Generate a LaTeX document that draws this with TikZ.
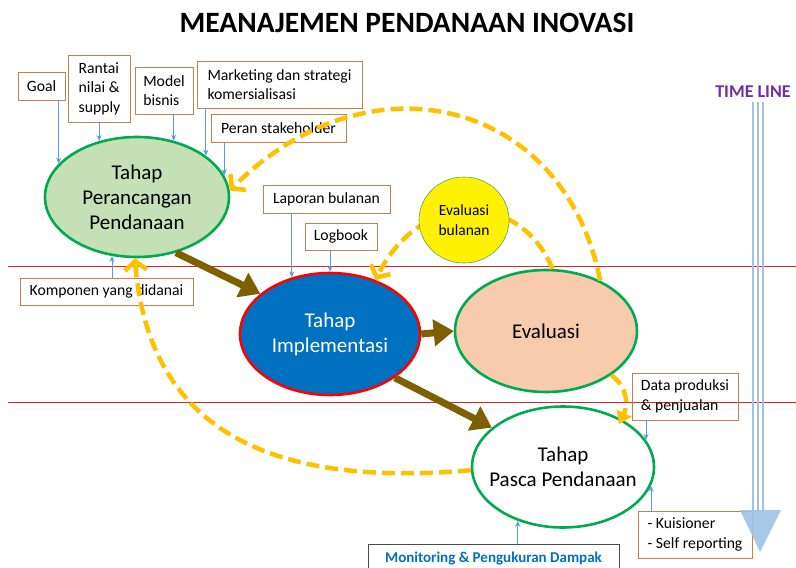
\documentclass[tikz,border=0pt]{standalone}
\usepackage{fontspec}
\setmainfont{Carlito}
\usetikzlibrary{shapes.geometric,arrows.meta}

\definecolor{stagegreen}{RGB}{0,170,80}
\definecolor{planfill}{RGB}{197,224,180}
\definecolor{implfill}{RGB}{0,112,192}
\definecolor{evalfill}{RGB}{248,203,173}
\definecolor{notebrown}{RGB}{192,128,80}
\definecolor{feedblue}{RGB}{91,155,213}
\definecolor{flowbrown}{RGB}{127,96,0}
\definecolor{loopyellow}{RGB}{255,192,0}
\definecolor{lanered}{RGB}{215,40,40}
\definecolor{timeblue}{RGB}{157,195,230}
\definecolor{timepurple}{RGB}{112,48,160}

\begin{document}
\begin{tikzpicture}[x=1pt, y=-1pt,
        stage node/.style={ellipse, draw=stagegreen, line width=2.6pt, inner sep=0pt, align=center, font=\fontsize{21}{25}\selectfont},
        note box/.style={rectangle, draw=notebrown, line width=0.8pt, align=left, inner sep=0pt, font=\fontsize{15.7}{19.5}\selectfont},
        feed/.style={-{Stealth[length=6pt,width=5pt]}, draw=feedblue, line width=0.8pt},
        flow/.style={-{Triangle[length=20pt,width=26pt]}, draw=flowbrown, line width=7pt},
        loop/.style={-{Straight Barb[length=9pt,width=22pt]}, draw=loopyellow, line width=4.5pt, dash pattern=on 13pt off 6pt}]

        \useasboundingbox (0,0) rectangle (796,568);

        % garis batas tahap
        \draw[lanered, line width=0.8pt] (8,266) -- (796,266);
        \draw[lanered, line width=0.8pt] (8,402) -- (796,402);

        \node[font=\fontsize{29.5}{32}\selectfont\bfseries] (title) at (407,23) {MEANAJEMEN PENDANAAN INOVASI};

        % tahap
        \node[stage node, fill=planfill, minimum width=184pt, minimum height=120pt] (plan) at (137,197) {Tahap\\Perancangan\\Pendanaan};
        \node[stage node, fill=implfill, draw=red, text=white, minimum width=180pt, minimum height=122pt] (impl) at (330,334) {Tahap\\Implementasi};
        \node[stage node, fill=evalfill, minimum width=182pt, minimum height=122pt] (eval) at (546,331) {Evaluasi};
        \node[stage node, fill=white, inner xsep=-12pt, minimum width=182pt, minimum height=121pt] (pasca) at (563,467) {Tahap\\Pasca Pendanaan};

        % loop evaluasi (di belakang lingkaran)
        \draw[loop] (eval.84) .. controls (520,190) and (420,190) .. (impl.50);
        \node[ellipse, draw=gray!70!green, fill=yellow, line width=0.6pt, inner sep=0pt, align=center, minimum width=90pt, minimum height=86pt, font=\fontsize{15.5}{20}\selectfont] (monthly) at (464,220) {Evaluasi\\bulanan};

        % masukan
        \node[note box, minimum width=47pt, minimum height=28pt] (goal) at (41.5,86) {Goal};
        \node[note box, minimum width=62pt, minimum height=67pt] (chain) at (99.5,88.5) {Rantai\\nilai \&\\supply};
        \node[note box, minimum width=58pt, minimum height=47pt] (model) at (164,90.5) {Model\\bisnis};
        \node[note box, minimum width=165pt, minimum height=47pt] (market) at (279.5,84.5) {Marketing dan strategi\\komersialisasi};
        \node[note box, minimum width=135pt, minimum height=28pt] (stake) at (278.5,128.5) {Peran stakeholder};
        \node[note box, minimum width=173pt, minimum height=27pt] (comp) at (106.5,291.5) {Komponen yang didanai};
        \node[note box, minimum width=127pt, minimum height=28pt] (report) at (326.5,199) {Laporan bulanan};
        \node[note box, minimum width=72pt, minimum height=27pt] (logbook) at (341,236.5) {Logbook};
        \node[note box, minimum width=106pt, minimum height=47pt] (sales) at (685,396.5) {Data produksi\\\& penjualan};
        \node[note box, minimum width=114pt, minimum height=47pt] (survey) at (695,534.5) {- Kuisioner\\- Self reporting};
        \node[note box, draw=black!70, text=implfill, font=\fontsize{15}{18}\selectfont\bfseries, minimum width=251pt, minimum height=30pt] (impact) at (493.5,559) {Monitoring \& Pengukuran Dampak};

        \path
            (goal.south -| plan.157) edge[feed] (plan.157)
            (chain.south -| plan.124) edge[feed] (plan.124)
            (model.south -| plan.57) edge[feed] (plan.57)
            (market.south -| plan.31) edge[feed] (plan.31)
            (stake.south -| plan.14) edge[feed] (plan.14)
            (comp.north -| plan.247) edge[feed] (plan.247)
            (report.south -| impl.124) edge[feed] (impl.124)
            (logbook.south -| impl.90) edge[feed] (impl.90)
            (sales.south -| pasca.18) edge[feed] (pasca.18)
            (survey.north -| pasca.348) edge[feed] (pasca.348)
            (impact.north -| pasca.230) edge[feed] (pasca.230);

        % time line
        \node[font=\fontsize{18}{20}\selectfont\bfseries, text=timepurple] (timelabel) at (753,92) {TIME LINE};
        \foreach \x in {753,758,763}
            \draw[timeblue, line width=2.6pt] (\x,102) -- (\x,512);
        \fill[timeblue, opacity=0.9] (740,510) -- (781,510) -- (760,552) -- cycle;

        % alur utama
        \draw[flow] (plan.-55) -- (impl.150);
        \draw[flow] (impl.east) -- (eval.west);
        \draw[flow] (impl.-34) -- (pasca.151);

        % umpan balik
        \coordinate (salestip) at (619,424);
        \draw[loop] (eval.43) .. controls (565,100) and (370,50) .. (plan.4);
        \draw[loop, -{Triangle[length=12pt,width=16pt]}] (eval.-34) .. controls (628,388) and (628,405) .. (salestip);
        \draw[loop] (pasca.182) .. controls (300,485) and (150,450) .. (plan.268);

\end{tikzpicture}
\end{document}
